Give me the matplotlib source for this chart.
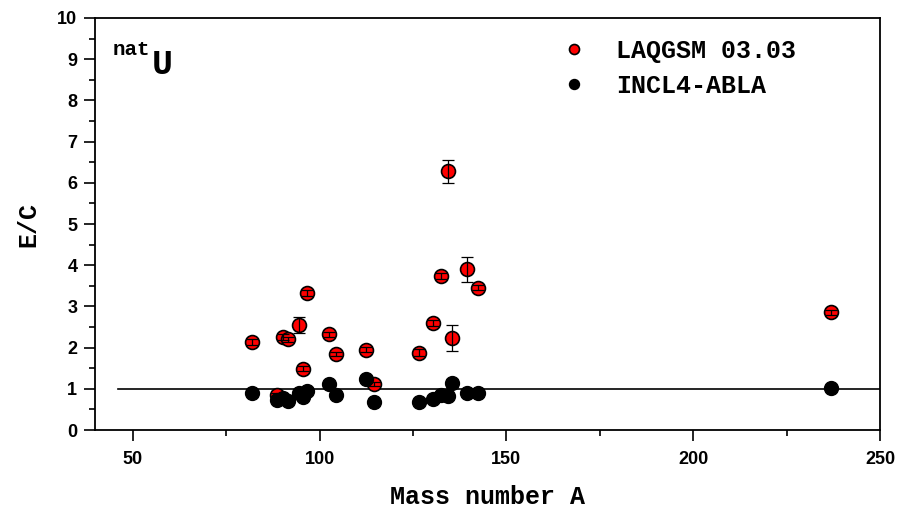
import matplotlib
matplotlib.use("Agg")
import matplotlib.pyplot as plt
from matplotlib.ticker import MultipleLocator

# Ratio of experimental to calculated yields (E/C) versus product mass number
laqgsm_A = [82, 88.5, 90.3, 91.6, 94.5, 95.5, 96.6, 102.5, 104.5, 112.4, 114.5,
            126.5, 130.5, 132.4, 134.4, 135.4, 139.4, 142.4, 237]
laqgsm_EC = [2.14, 0.84, 2.26, 2.20, 2.55, 1.49, 3.33, 2.32, 1.84, 1.95, 1.12,
             1.88, 2.60, 3.73, 6.28, 2.23, 3.90, 3.45, 2.86]
laqgsm_err = [0.08, 0.05, 0.07, 0.06, 0.20, 0.06, 0.07, 0.06, 0.05, 0.06, 0.05,
              0.08, 0.07, 0.07, 0.28, 0.31, 0.30, 0.06, 0.06]

incl_A = [82, 88.5, 90.3, 91.6, 94.5, 95.5, 96.7, 102.5, 104.5, 112.4, 114.5,
          126.5, 130.5, 132.4, 134.4, 135.4, 139.4, 142.4, 237]
incl_EC = [0.91, 0.74, 0.77, 0.70, 0.91, 0.81, 0.95, 1.11, 0.85, 1.23, 0.67,
           0.67, 0.75, 0.85, 0.83, 1.13, 0.91, 0.91, 1.02]
incl_err = [0.04, 0.04, 0.04, 0.04, 0.04, 0.04, 0.04, 0.05, 0.04, 0.05, 0.04,
            0.04, 0.04, 0.04, 0.04, 0.10, 0.04, 0.04, 0.04]

x_ticks = [50, 100, 150, 200, 250]
y_ticks = list(range(0, 11))

mono = "Liberation Mono"
sans = "Liberation Sans"

fig = plt.figure(figsize=(9.0, 5.14), dpi=100)
ax = fig.add_axes([0.1059, 0.1634, 0.8719, 0.8016])

# reference line E/C = 1
ax.plot([46, 250], [1, 1], color="black", lw=1.2, zorder=2)

ax.plot(laqgsm_A, laqgsm_EC, linestyle="none", marker="o", ms=10,
        mfc="#ff0000", mec="black", mew=1.2, zorder=3, label="LAQGSM 03.03")
ax.errorbar(laqgsm_A, laqgsm_EC, yerr=laqgsm_err, fmt="none", ecolor="black",
            elinewidth=0.9, capsize=4, capthick=0.9, zorder=4)

ax.plot(incl_A, incl_EC, linestyle="none", marker="o", ms=10,
        mfc="black", mec="black", mew=1.0, zorder=5, label="INCL4-ABLA")
ax.errorbar(incl_A, incl_EC, yerr=incl_err, fmt="none", ecolor="black",
            elinewidth=0.9, capsize=4, capthick=0.9, zorder=5)

ax.set_xlim(40, 250)
ax.set_ylim(0, 10)
ax.set_xticks(x_ticks)
ax.set_yticks(y_ticks)
ax.xaxis.set_minor_locator(MultipleLocator(25))
ax.yaxis.set_minor_locator(MultipleLocator(0.5))

ax.tick_params(which="major", direction="out", length=8, width=1.2,
               top=False, right=False)
ax.tick_params(which="minor", direction="out", length=4, width=1.2,
               top=False, right=False)
ax.tick_params(axis="y", which="major", pad=5)
ax.tick_params(axis="x", which="major", pad=7)
for lab in ax.get_xticklabels() + ax.get_yticklabels():
    lab.set_fontfamily(sans)
    lab.set_fontweight("bold")
    lab.set_fontsize(13)

for sp in ax.spines.values():
    sp.set_linewidth(1.3)

ax.set_xlabel("Mass number A", fontfamily=mono, fontweight="bold",
              fontsize=18, labelpad=12)
ax.set_ylabel("E/C", fontfamily=mono, fontweight="bold", fontsize=18,
              labelpad=12)

ax.text(0.0226, 0.91, "nat", transform=ax.transAxes, fontfamily=mono,
        fontweight="bold", fontsize=15, va="baseline", ha="left")
ax.text(0.0715, 0.864, "U", transform=ax.transAxes, fontfamily=mono,
        fontweight="bold", fontsize=25, va="baseline", ha="left")

leg = ax.legend(loc="upper left", bbox_to_anchor=(0.594, 0.95), frameon=False,
                prop={"family": mono, "weight": "bold", "size": 18},
                handlelength=1.0, handletextpad=1.2, labelspacing=0.45,
                borderpad=0, borderaxespad=0, markerscale=0.72)

fig.savefig("out.png", dpi=100)
